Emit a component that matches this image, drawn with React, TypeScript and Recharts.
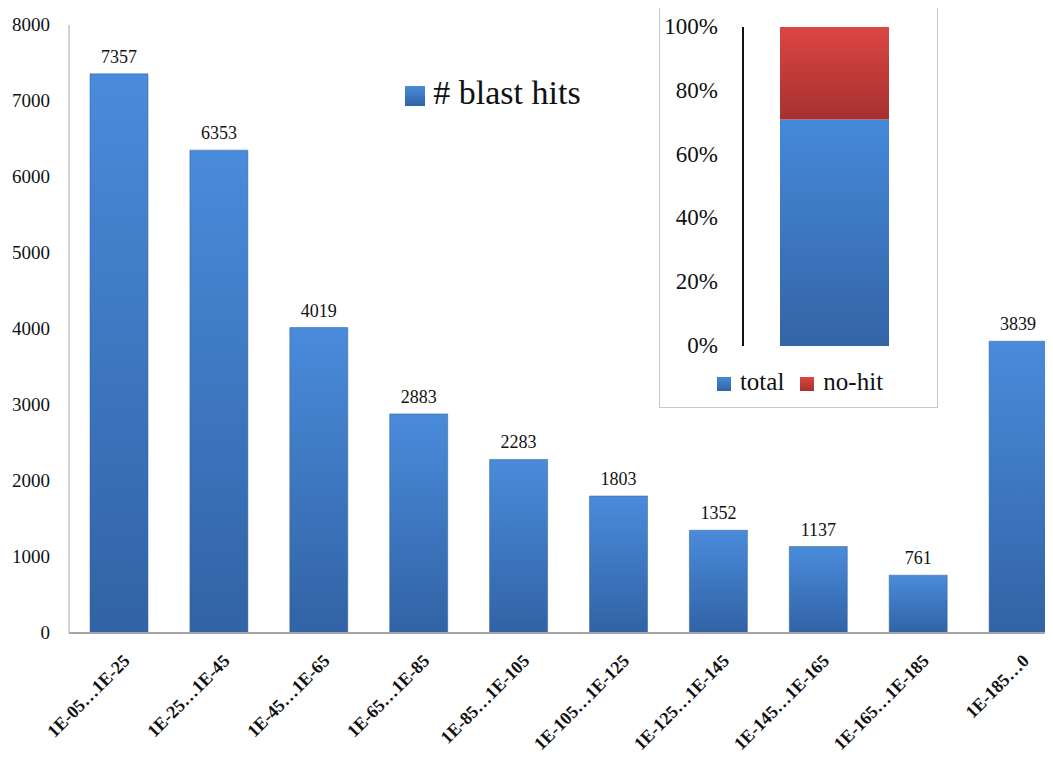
import { Bar, BarChart, LabelList, Legend, XAxis, YAxis } from 'recharts'

const ranges = [
  '1E-05…1E-25',
  '1E-25…1E-45',
  '1E-45…1E-65',
  '1E-65…1E-85',
  '1E-85…1E-105',
  '1E-105…1E-125',
  '1E-125…1E-145',
  '1E-145…1E-165',
  '1E-165…1E-185',
  '1E-185…0',
]
const blastHits = [7357, 6353, 4019, 2883, 2283, 1803, 1352, 1137, 761, 3839]
const yTicks = [0, 1000, 2000, 3000, 4000, 5000, 6000, 7000, 8000]

const insetTotal = [71]
const insetNoHit = [29]
const insetTicks = [0, 20, 40, 60, 80, 100]

const FONT = '"Liberation Serif", "DejaVu Serif", serif'

const mainData = ranges.map((r, i) => ({ range: r, hits: blastHits[i] }))
const insetData = insetTotal.map((t, i) => ({ name: 'share', total: t, noHit: insetNoHit[i] }))

function RotatedTick(props: any) {
  const { x, y, payload } = props
  const ax = x + 12
  const ay = y + 21
  return (
    <text
      x={ax}
      y={ay}
      transform={`rotate(-45, ${ax}, ${ay})`}
      textAnchor="end"
      style={{ fontFamily: FONT, fontWeight: 'bold', fontSize: 18 }}
      fill="#111"
    >
      {payload.value}
    </text>
  )
}

function CountTick(props: any) {
  const { y, payload } = props
  return (
    <text x={50} y={y} dy={6} textAnchor="end" style={{ fontFamily: FONT, fontSize: 19 }} fill="#111">
      {payload.value}
    </text>
  )
}

function PercentTick(props: any) {
  const { y, payload } = props
  return (
    <text x={58} y={y} dy={7} textAnchor="end" style={{ fontFamily: FONT, fontSize: 23 }} fill="#111">
      {`${payload.value}%`}
    </text>
  )
}

function Inset() {
  return (
    <div
      style={{
        position: 'absolute',
        left: 659,
        top: 5,
        width: 279,
        height: 403,
        border: '1px solid #c8c8c8',
        background: '#fff',
        boxSizing: 'border-box',
      }}
    >
      <BarChart
        width={277}
        height={401}
        data={insetData}
        margin={{ top: 21, right: 11, left: 0, bottom: 61 }}
      >
        <defs>
          <linearGradient id="insetBlue" x1="0" y1="0" x2="0" y2="1">
            <stop offset="0%" stopColor="#4589da" />
            <stop offset="100%" stopColor="#3464a6" />
          </linearGradient>
          <linearGradient id="insetRed" x1="0" y1="0" x2="0" y2="1">
            <stop offset="0%" stopColor="#dc4642" />
            <stop offset="100%" stopColor="#a5312f" />
          </linearGradient>
        </defs>
        <XAxis dataKey="name" hide />
        <YAxis
          domain={[0, 100]}
          ticks={insetTicks}
          width={83}
          tickLine={false}
          axisLine={{ stroke: '#111', strokeWidth: 2 }}
          tick={<PercentTick />}
        />
        <Legend
          verticalAlign="middle"
          align="center"
          iconType="square"
          iconSize={14}
          itemSorter={(item: any) => (item.value === 'total' ? 0 : 1)}
          wrapperStyle={{ position: 'absolute', top: 362, left: 38, width: 220, height: 30, fontFamily: FONT, fontSize: 25 }}
          formatter={(v: string) => <span style={{ color: '#111', paddingLeft: 5, paddingRight: 6 }}>{v}</span>}
        />
        <Bar dataKey="total" name="total" stackId="s" fill="url(#insetBlue)" barSize={109} isAnimationActive={false} />
        <Bar dataKey="noHit" name="no-hit" stackId="s" fill="url(#insetRed)" barSize={109} isAnimationActive={false} />
      </BarChart>
    </div>
  )
}

function Main() {
  return (
    <BarChart
      width={1068}
      height={760}
      data={mainData}
      margin={{ top: 25, right: 0, left: 0, bottom: 0 }}
      barCategoryGap={21}
    >
      <defs>
        <linearGradient id="blueFill" x1="0" y1="0" x2="0" y2="1">
          <stop offset="0%" stopColor="#4a8bdb" />
          <stop offset="100%" stopColor="#3163a5" />
        </linearGradient>
      </defs>
      <XAxis
        dataKey="range"
        interval={0}
        height={127}
        tickLine={false}
        axisLine={{ stroke: '#a6a6a6', strokeWidth: 2 }}
        tick={<RotatedTick />}
      />
      <YAxis
        domain={[0, 8000]}
        ticks={yTicks}
        width={69}
        tickLine={false}
        axisLine={{ stroke: '#a6a6a6', strokeWidth: 1 }}
        tick={<CountTick />}
      />
      <Legend
        verticalAlign="middle"
        align="center"
        iconType="square"
        iconSize={20}
        wrapperStyle={{ position: 'absolute', top: 74, left: 393, width: 210, height: 40, fontFamily: FONT, fontSize: 34 }}
        formatter={(v: string) => <span style={{ color: '#111', paddingLeft: 4 }}>{v}</span>}
      />
      <Bar dataKey="hits" name="# blast hits" fill="url(#blueFill)" stroke="#2e5c98" strokeWidth={0.5} isAnimationActive={false}>
        <LabelList dataKey="hits" position="top" offset={11} style={{ fontFamily: FONT, fontSize: 18, fill: '#111' }} />
      </Bar>
    </BarChart>
  )
}

export default function App() {
  return (
    <div
      style={{
        position: 'relative',
        width: 1053,
        height: 760,
        margin: -8,
        overflow: 'hidden',
        background: '#fff',
        fontFamily: FONT,
      }}
    >
      <Main />
      <Inset />
    </div>
  )
}
